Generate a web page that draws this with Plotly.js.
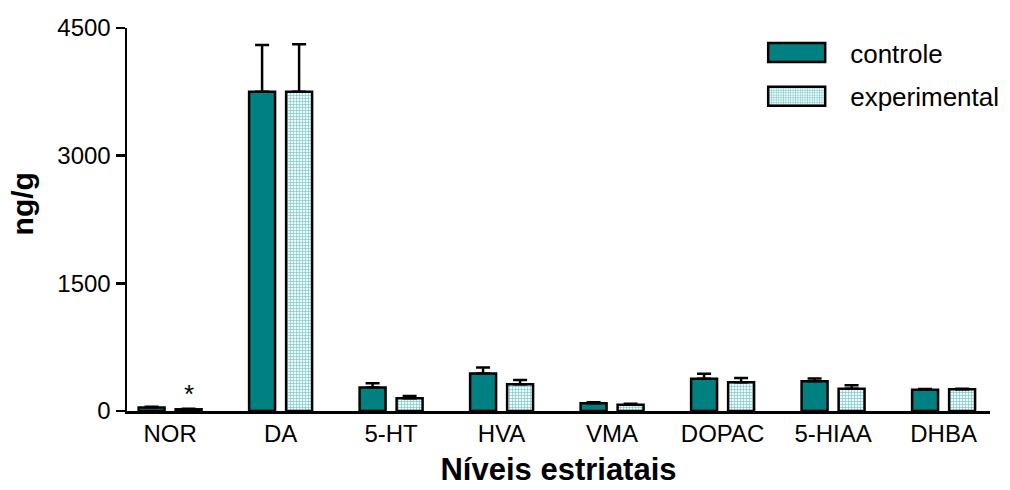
<!DOCTYPE html>
<html><head><meta charset="utf-8">
<script src="https://cdn.plot.ly/plotly-3.0.1.min.js"></script>
<style>body{margin:0;background:#fff}#c{width:1010px;height:490px}</style>
</head><body><div id="c"></div>
<script>
const categories = ["NOR","DA","5-HT","HVA","VMA","DOPAC","5-HIAA","DHBA"];
const controle = [40, 3750, 275, 440, 90, 380, 350, 250];
const controleErr = [10, 550, 50, 70, 12, 58, 32, 8];
const experimental = [20, 3750, 150, 315, 74, 337, 262, 255];
const experimentalErr = [5, 560, 27, 48, 12, 50, 40, 5];
const yTicks = [0, 1500, 3000, 4500];

const F = "Arial, 'Liberation Sans', sans-serif";
const traces = [
  {type:'bar', name:'controle', x:categories, y:controle,
   width:0.235, offset:-0.285,
   marker:{color:'#008080', line:{color:'#000', width:2.5}},
   error_y:{type:'data', symmetric:false, array:controleErr, arrayminus:controle.map(()=>0), color:'#000', thickness:2.5, width:7},
   legendgroup:'a'},
  {type:'bar', name:'experimental', x:categories, y:experimental,
   width:0.235, offset:0.05,
   marker:{color:'#ffffff', line:{color:'#000', width:2.5},
     pattern:{shape:'+', fgcolor:'#6cc0c0', bgcolor:'#eefafa', size:3, solidity:0.35}},
   error_y:{type:'data', symmetric:false, array:experimentalErr, arrayminus:experimental.map(()=>0), color:'#000', thickness:2.5, width:7},
   legendgroup:'b'}
];
const layout = {
  width:1010, height:490,
  margin:{l:127, r:20, t:28, b:79, autoexpand:false},
  paper_bgcolor:'#fff', plot_bgcolor:'#fff',
  font:{family:F, color:'#000'},
  barmode:'overlay',
  showlegend:true,
  legend:{x:0.714, y:0.997, xanchor:'left', yanchor:'top', font:{size:26, family:F},
          traceorder:'grouped', tracegroupgap:7, bgcolor:'rgba(0,0,0,0)', itemwidth:97},
  xaxis:{type:'category', range:[-0.39, 7.42], showline:true, linecolor:'#000', linewidth:2.5,
         ticks:'', showgrid:false, zeroline:false, tickfont:{size:24, family:F},
         title:{text:'<b>Níveis estriatais</b>', font:{size:31, family:F}, standoff:12}},
  yaxis:{range:[0,4500], tickvals:yTicks, ticktext:yTicks.map(String), showline:true, linecolor:'#000', linewidth:2.5,
         ticks:'outside', ticklen:9, tickwidth:2.5, tickcolor:'#000', showgrid:false, zeroline:false,
         tickfont:{size:24, family:F}},
  annotations:[
    {x:0.167, y:200, xref:'x', yref:'y', text:'*', showarrow:false, font:{size:26, family:F}, yanchor:'middle'},
    {x:-0.12, y:0.5405, xref:'paper', yref:'paper', text:'<b>ng/g</b>', textangle:-90, showarrow:false,
     font:{size:30, family:F}, xanchor:'center', yanchor:'middle'}
  ]
};
Plotly.newPlot('c', traces, layout, {staticPlot:true, displayModeBar:false}).then(gd => {
  gd.querySelectorAll('.legendpoints path').forEach(p => {
    p.setAttribute('d', 'M28.5,9.5H-28.5V-9.5H28.5Z');
  });
});
</script></body></html>
